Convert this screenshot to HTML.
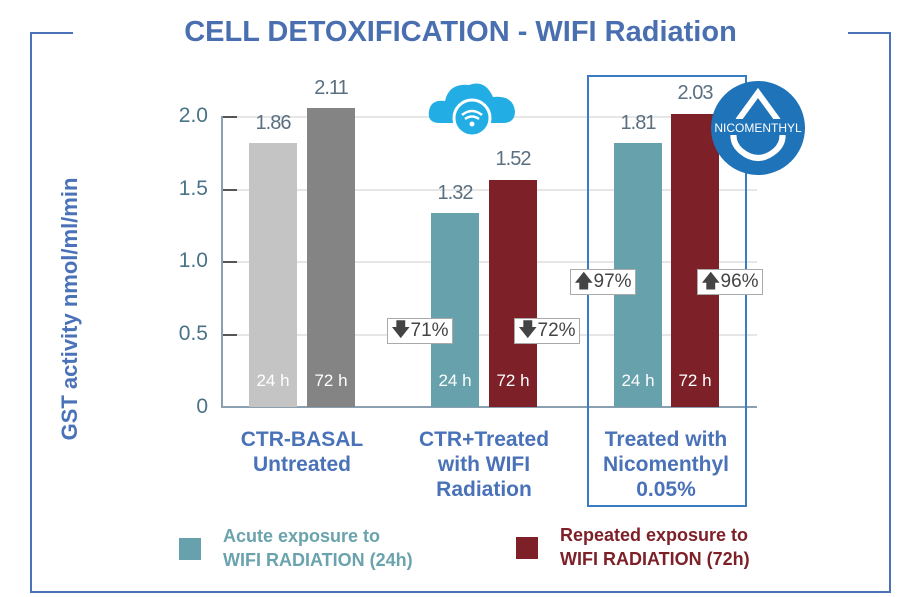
<!DOCTYPE html><html><head><style>
body{margin:0;width:921px;height:597px;background:#fff;position:relative;overflow:hidden;font-family:"Liberation Sans",sans-serif}
.a{position:absolute}
.bar{position:absolute;bottom:190px;width:48px}
.lbl{position:absolute;width:80px;text-align:center;color:#5a6f80;font-size:20px;letter-spacing:-1px}
.hl{position:absolute;width:48px;text-align:center;color:#fff;font-size:17px;top:371px}
.yt{position:absolute;width:40px;text-align:right;left:168px;color:#4a7388;font-size:21px}
.grid{position:absolute;left:237px;width:520px;height:2px;background:#e6e6e6}
.tick{position:absolute;left:221px;width:16px;height:2px;background:#555}
.cat{position:absolute;text-align:center;color:#4a72b8;font-weight:bold;font-size:21px;line-height:25px;width:180px}
.pct{position:absolute;border:1px solid #aaa;background:#fff;font-size:19px;color:#444;padding:0 3px;height:24px;line-height:24px}
</style></head><body>
<div class="a" style="left:30px;top:32px;width:2px;height:561px;background:#4a72b8"></div>
<div class="a" style="left:30px;top:32px;width:43px;height:2px;background:#4a72b8"></div>
<div class="a" style="left:889px;top:32px;width:2px;height:561px;background:#4a72b8"></div>
<div class="a" style="left:848px;top:32px;width:43px;height:2px;background:#4a72b8"></div>
<div class="a" style="left:30px;top:591px;width:861px;height:2px;background:#4a72b8"></div>
<div class="a" style="left:0;width:921px;top:16px;text-align:center;color:#4a6fb0;font-size:29px;font-weight:bold">CELL DETOXIFICATION - WIFI Radiation</div>
<div class="a" style="left:-90px;top:296px;width:320px;transform:rotate(-90deg);text-align:center;color:#4a72b8;font-weight:bold;font-size:22px">GST activity nmol/ml/min</div>
<div class="grid" style="top:116px"></div><div class="grid" style="top:189px"></div><div class="grid" style="top:261px"></div><div class="grid" style="top:334px"></div>
<div class="tick" style="top:116px"></div><div class="tick" style="top:189px"></div><div class="tick" style="top:261px"></div><div class="tick" style="top:334px"></div>
<div class="a" style="left:221px;top:116px;width:2px;height:292px;background:#8aa0b0"></div>
<div class="a" style="left:221px;top:406px;width:536px;height:2px;background:#8aa0b0"></div>
<div class="yt" style="top:104px">2.0</div><div class="yt" style="top:177px">1.5</div><div class="yt" style="top:249px">1.0</div><div class="yt" style="top:322px">0.5</div><div class="yt" style="top:395px">0</div>
<div class="a" style="left:587px;top:75px;width:156px;height:428px;border:2px solid #3a7cc4"></div>
<div class="bar" style="left:249px;height:264px;background:#c5c4c4"></div>
<div class="bar" style="left:307px;height:299px;background:#848484"></div>
<div class="bar" style="left:431px;height:194px;background:#66a1ac"></div>
<div class="bar" style="left:489px;height:227px;background:#7e2028"></div>
<div class="bar" style="left:614px;height:264px;background:#66a1ac"></div>
<div class="bar" style="left:671px;height:293px;background:#7e2028"></div>
<div class="lbl" style="left:233px;top:112px">1.86</div>
<div class="lbl" style="left:291px;top:77px">2.11</div>
<div class="lbl" style="left:415px;top:182px">1.32</div>
<div class="lbl" style="left:473px;top:148px">1.52</div>
<div class="lbl" style="left:598px;top:112px">1.81</div>
<div class="lbl" style="left:655px;top:82px">2.03</div>
<div class="hl" style="left:249px">24 h</div><div class="hl" style="left:307px">72 h</div>
<div class="hl" style="left:431px">24 h</div><div class="hl" style="left:489px">72 h</div>
<div class="hl" style="left:614px">24 h</div><div class="hl" style="left:671px">72 h</div>
<div class="pct" style="left:387px;top:318px">🡇71%</div>
<div class="pct" style="left:514px;top:318px">🡇72%</div>
<div class="pct" style="left:570px;top:269px">🡅97%</div>
<div class="pct" style="left:697px;top:269px">🡅96%</div>
<svg class="a" style="left:425px;top:75px" width="95" height="60"><path d="M15 48 Q2 48 4 36 Q6 24 20 26 Q24 8 44 10 Q60 4 68 22 Q88 20 90 36 Q90 48 78 48 Z" fill="#22aee4"/><circle cx="47" cy="43" r="18" fill="#22aee4" stroke="#fff" stroke-width="3"/><path d="M37 40 Q47 32 57 40 M40 44 Q47 39 54 44" stroke="#fff" stroke-width="2.5" fill="none"/><circle cx="47" cy="49" r="2.5" fill="#fff"/></svg>
<svg class="a" style="left:709px;top:79px" width="98" height="98"><circle cx="49" cy="49" r="47" fill="#1f73b8"/><path d="M49 14 L68 40 Q80 60 66 72 Q49 86 32 72 Q18 60 30 40 Z" fill="none" stroke="#fff" stroke-width="6"/><rect x="4" y="40" width="90" height="16" fill="#1f73b8"/><text x="49" y="53" fill="#fff" font-size="12" text-anchor="middle" font-family="Liberation Sans">NICOMENTHYL</text></svg>
<div class="cat" style="left:212px;top:427px">CTR-BASAL<br>Untreated</div>
<div class="cat" style="left:394px;top:427px">CTR+Treated<br>with WIFI<br>Radiation</div>
<div class="cat" style="left:576px;top:427px">Treated with<br>Nicomenthyl<br>0.05%</div>
<div class="a" style="left:179px;top:538px;width:22px;height:22px;background:#66a1ac"></div>
<div class="a" style="left:223px;top:524px;color:#6aa3ad;font-weight:bold;font-size:18px;line-height:24px">Acute exposure to<br>WIFI RADIATION (24h)</div>
<div class="a" style="left:516px;top:537px;width:22px;height:22px;background:#7e2028"></div>
<div class="a" style="left:560px;top:523px;color:#7e2028;font-weight:bold;font-size:18px;line-height:24px">Repeated exposure to<br>WIFI RADIATION (72h)</div>
</body></html>
